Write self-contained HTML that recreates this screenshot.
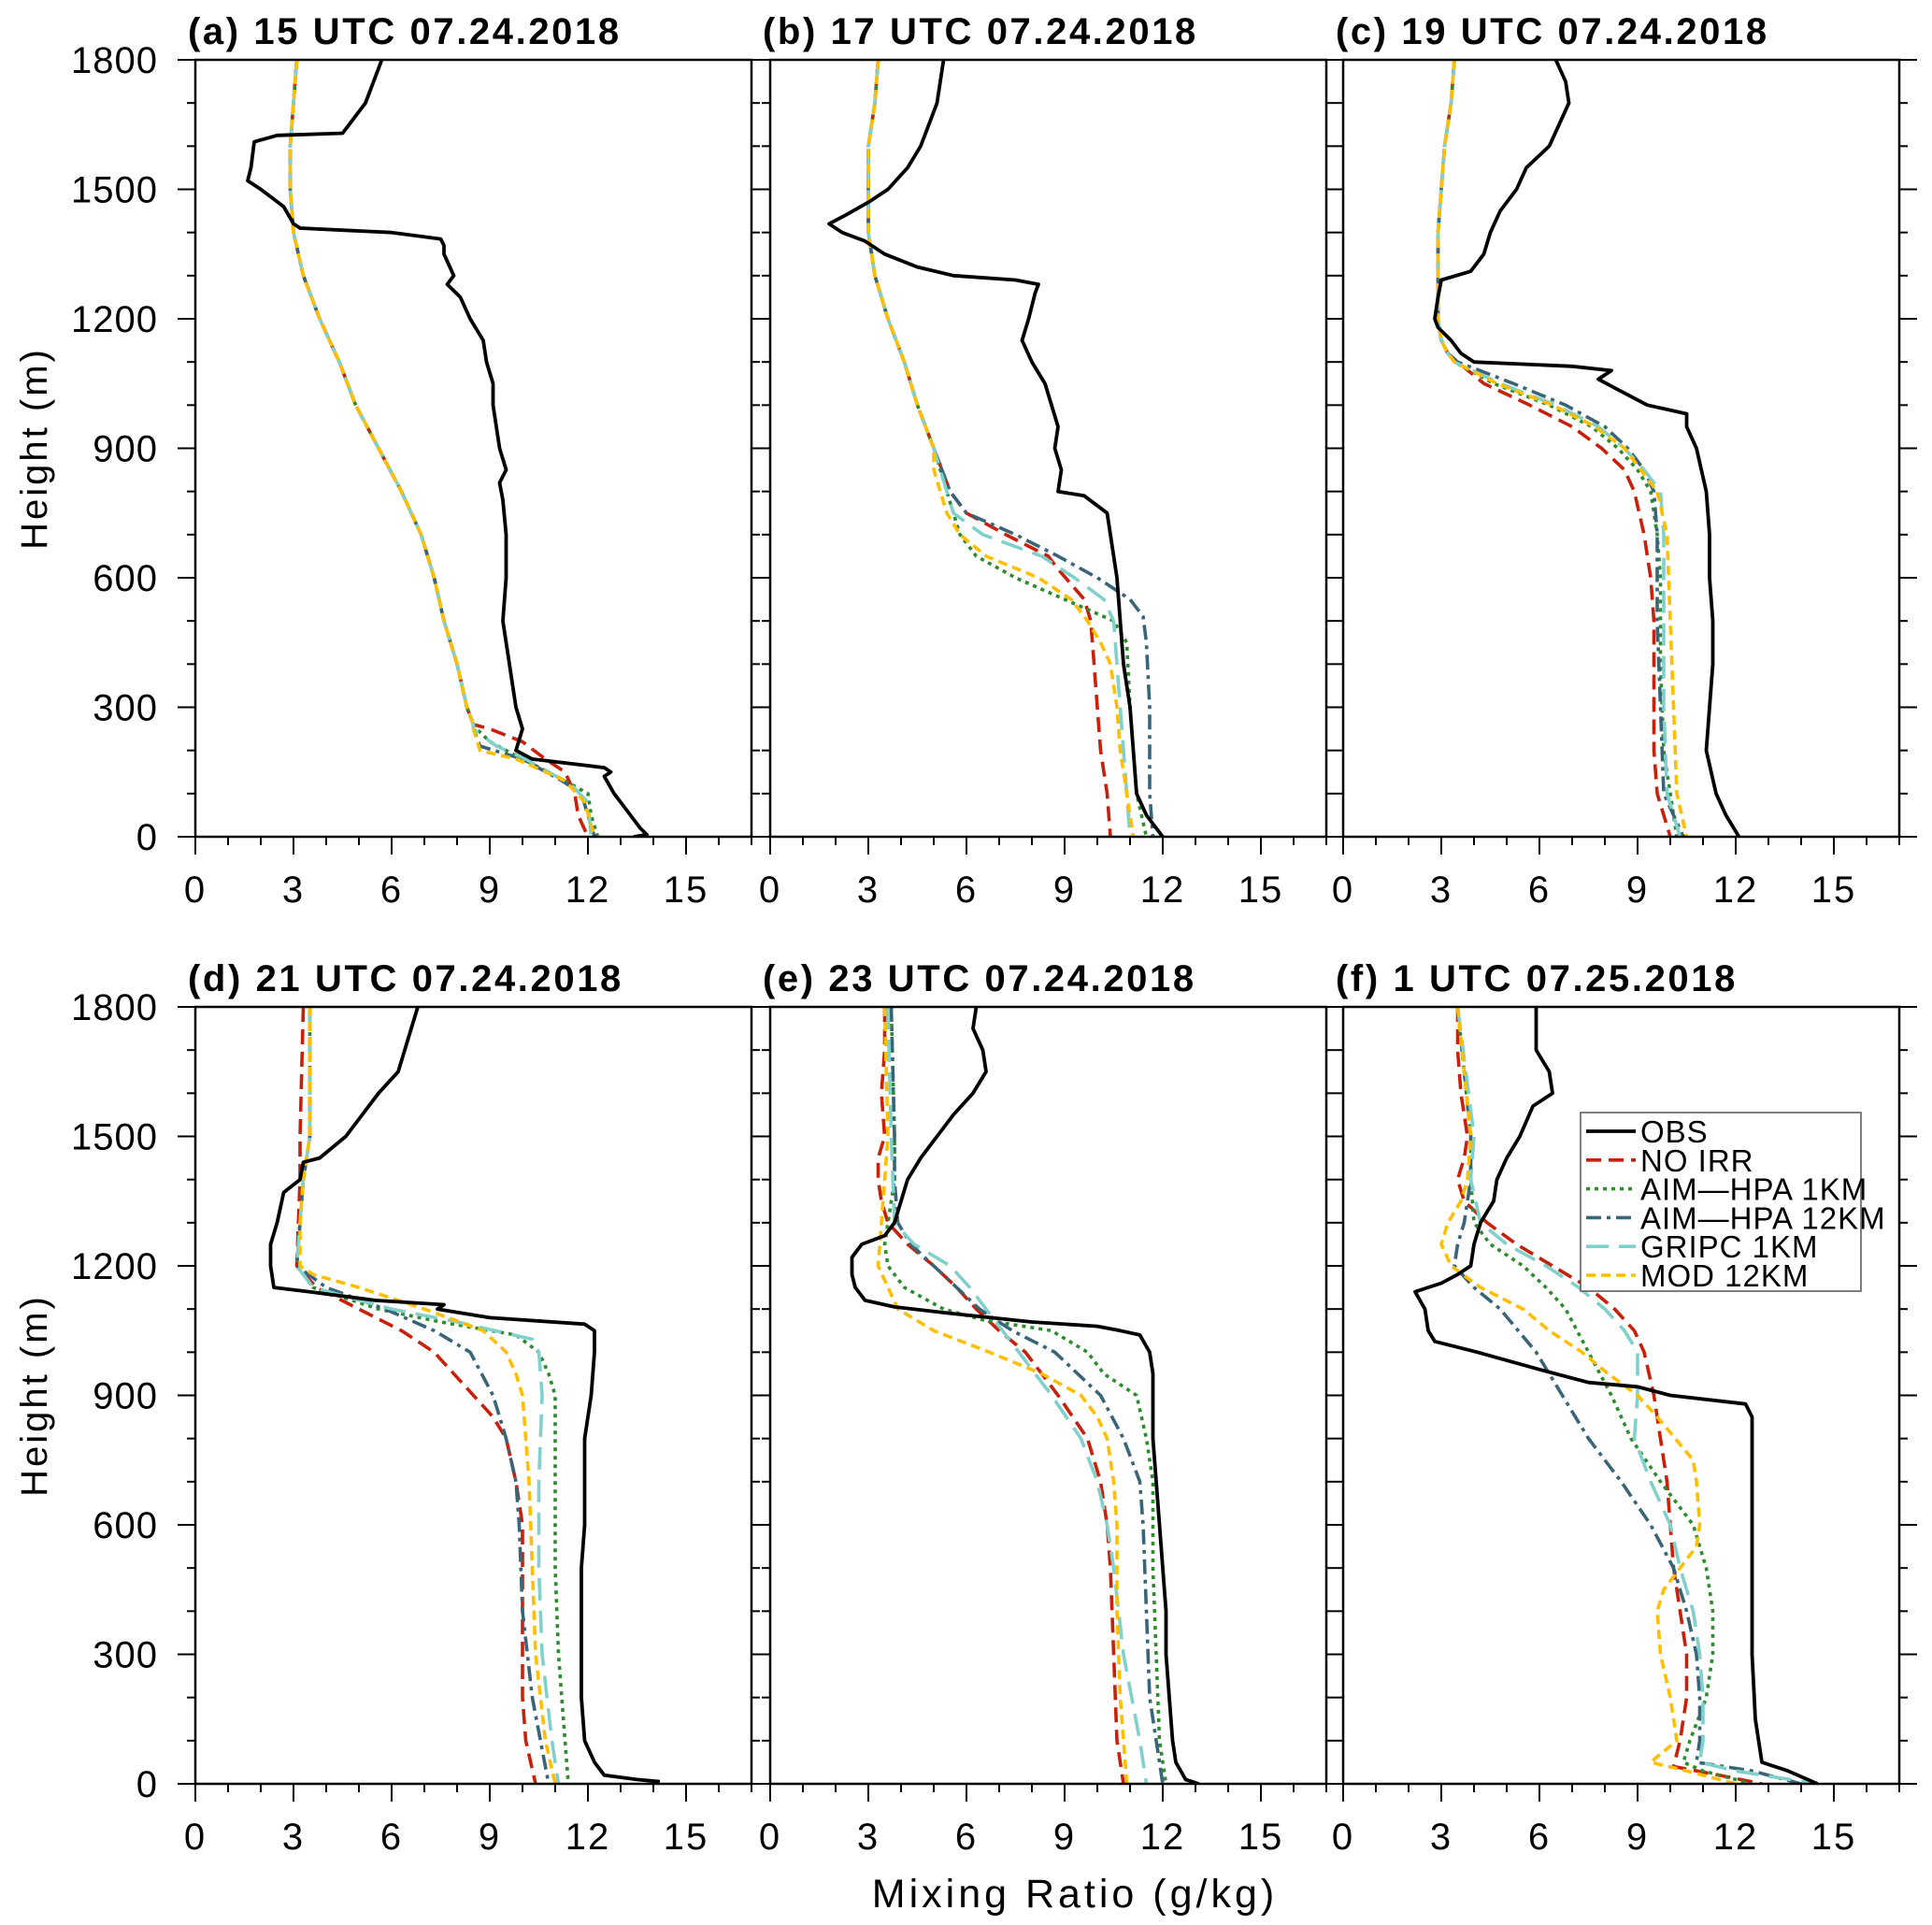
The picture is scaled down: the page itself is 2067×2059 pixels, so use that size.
<!DOCTYPE html>
<html><head><meta charset="utf-8"><style>
body{margin:0;background:#fff}
svg{display:block}
text{font-family:"Liberation Sans",sans-serif;fill:#000}
</style></head><body>
<svg id="chart" width="2067" height="2059" viewBox="0 0 2067 2059" xmlns="http://www.w3.org/2000/svg"></svg>
<script>
const panelTitles = ["(a)  15  UTC  07.24.2018","(b)  17  UTC  07.24.2018","(c)  19  UTC  07.24.2018","(d)  21  UTC  07.24.2018","(e)  23  UTC  07.24.2018","(f)  1  UTC  07.25.2018"];
const seriesNames = ["OBS","NO  IRR","AIM\u2014HPA  1KM","AIM\u2014HPA  12KM","GRIPC  1KM","MOD  12KM"];
const xTicks = [0,3,6,9,12,15];
const yTicks = [0,300,600,900,1200,1500,1800];

const A_OBS=[[1800,5.7],[1700,5.2],[1650,4.7],[1630,4.5],[1625,2.5],[1610,1.8],[1550,1.7],[1520,1.6],[1500,2.0],[1460,2.7],[1420,3.0],[1410,3.2],[1400,6.0],[1385,7.5],[1370,7.6],[1350,7.6],[1300,7.9],[1280,7.7],[1250,8.1],[1200,8.4],[1150,8.8],[1100,8.9],[1050,9.1],[1000,9.1],[950,9.2],[900,9.3],[850,9.5],[820,9.3],[780,9.4],[700,9.5],[600,9.5],[500,9.4],[400,9.6],[300,9.8],[250,10.0],[200,9.8],[180,10.3],[160,12.5],[150,12.7],[140,12.5],[100,12.8],[50,13.3],[20,13.6],[5,13.8],[0,13.4]];
const A_COMMON=[[1800,3.1],[1700,3.0],[1600,2.9],[1500,2.9],[1400,3.0],[1300,3.3],[1200,3.8],[1100,4.4],[1000,4.9],[900,5.6],[800,6.3],[700,6.9],[600,7.3],[500,7.6],[400,8.0],[300,8.3],[260,8.5]];
const A_NOIRR=A_COMMON.concat([[250,9.0],[220,10.0],[180,10.7],[150,11.3],[100,11.6],[50,11.7],[0,12.0]]);
const A_AIM1=A_COMMON.concat([[250,8.6],[220,9.0],[180,10.0],[130,11.3],[100,12.0],[50,12.1],[0,12.3]]);
const A_AIM12=A_COMMON.concat([[250,8.5],[210,8.7],[180,10.0],[130,11.2],[100,11.8],[50,12.0],[0,12.2]]);
const A_GRIPC=A_COMMON.concat([[250,8.5],[210,9.2],[180,10.1],[120,11.5],[80,12.0],[0,12.1]]);
const A_MOD=A_COMMON.concat([[250,8.5],[200,8.7],[180,9.8],[130,11.3],[80,11.9],[0,12.2]]);

const B_OBS=[[1800,5.3],[1700,5.1],[1600,4.6],[1550,4.2],[1500,3.6],[1470,3.0],[1440,2.3],[1420,1.8],[1400,2.2],[1380,2.9],[1350,3.5],[1320,4.5],[1300,5.6],[1290,7.5],[1280,8.2],[1260,8.1],[1200,7.9],[1150,7.7],[1100,8.0],[1050,8.4],[1000,8.6],[950,8.8],[900,8.7],[850,8.9],[800,8.8],[790,9.6],[750,10.3],[700,10.4],[600,10.6],[500,10.7],[400,10.8],[300,11.0],[200,11.1],[100,11.2],[50,11.5],[0,12.0]];
const B_COMMON=[[1800,3.3],[1700,3.2],[1600,3.0],[1500,3.0],[1400,3.0],[1300,3.2],[1200,3.6],[1100,4.1],[1000,4.5],[900,5.0]];
const B_NOIRR=B_COMMON.concat([[800,5.5],[750,6.0],[700,7.2],[650,8.5],[620,8.8],[550,9.6],[500,9.8],[400,9.9],[300,10.0],[200,10.1],[100,10.3],[0,10.4]]);
const B_AIM1=B_COMMON.concat([[800,5.4],[700,5.8],[650,6.3],[600,7.5],[550,9.0],[500,10.5],[450,10.9],[300,11.0],[200,11.1],[100,11.2],[0,11.5]]);
const B_AIM12=B_COMMON.concat([[800,5.5],[750,6.0],[700,7.5],[650,8.8],[600,10.0],[550,11.0],[510,11.4],[450,11.5],[300,11.6],[100,11.6],[0,11.7]]);
const B_GRIPC=B_COMMON.concat([[850,5.2],[750,5.6],[700,6.5],[650,8.3],[600,9.3],[550,10.2],[500,10.5],[400,10.6],[300,10.7],[100,10.9],[0,11.0]]);
const B_MOD=B_COMMON.concat([[850,5.0],[750,5.4],[700,5.8],[650,6.6],[600,8.2],[550,9.2],[500,9.7],[450,10.1],[400,10.4],[300,10.6],[200,10.7],[100,10.9],[0,11.1]]);

const C_OBS=[[1800,6.5],[1750,6.8],[1700,6.9],[1650,6.6],[1600,6.3],[1550,5.6],[1500,5.3],[1450,4.8],[1400,4.5],[1350,4.3],[1310,3.9],[1290,3.0],[1250,2.9],[1200,2.8],[1180,2.9],[1150,3.3],[1120,3.6],[1100,4.0],[1090,7.0],[1080,8.2],[1060,7.8],[1040,8.3],[1000,9.3],[980,10.5],[950,10.5],[900,10.8],[800,11.1],[700,11.2],[600,11.2],[500,11.3],[400,11.3],[300,11.2],[200,11.1],[100,11.4],[50,11.7],[0,12.1]];
const C_COMMON=[[1800,3.4],[1700,3.3],[1600,3.1],[1500,3.0],[1400,2.9],[1300,2.9],[1200,2.9],[1150,3.0],[1120,3.2]];
const C_NOIRR=C_COMMON.concat([[1100,3.5],[1050,4.3],[1000,5.7],[950,7.0],[900,7.9],[850,8.6],[800,8.9],[700,9.2],[600,9.4],[500,9.5],[300,9.5],[200,9.5],[100,9.6],[0,10.0]]);
const C_AIM1=C_COMMON.concat([[1100,3.4],[1050,4.6],[1000,6.3],[950,7.6],[900,8.4],[850,9.0],[800,9.4],[700,9.6],[600,9.7],[400,9.7],[200,9.8],[0,10.2]]);
const C_AIM12=C_COMMON.concat([[1100,3.5],[1050,5.2],[1000,6.8],[950,8.0],[900,8.7],[850,9.2],[800,9.5],[700,9.6],[500,9.6],[300,9.7],[100,9.8],[0,10.4]]);
const C_GRIPC=C_COMMON.concat([[1100,3.4],[1050,4.8],[1000,6.5],[950,7.8],[900,8.6],[850,9.2],[800,9.7],[700,9.8],[500,9.8],[300,9.8],[100,9.9],[0,10.3]]);
const C_MOD=C_COMMON.concat([[1100,3.4],[1050,4.7],[1000,6.4],[950,7.7],[900,8.6],[850,9.1],[800,9.6],[700,9.9],[500,10.0],[300,10.1],[100,10.2],[0,10.5]]);

const D_OBS=[[1800,6.8],[1750,6.6],[1700,6.4],[1650,6.2],[1600,5.6],[1550,5.1],[1500,4.6],[1450,3.8],[1440,3.3],[1400,3.2],[1370,2.7],[1300,2.5],[1250,2.3],[1200,2.3],[1150,2.4],[1140,3.5],[1120,5.5],[1110,7.6],[1100,7.4],[1080,9.0],[1065,11.9],[1050,12.2],[1000,12.2],[900,12.1],[800,11.9],[600,11.9],[500,11.8],[200,11.8],[100,11.9],[50,12.2],[20,12.5],[10,13.5],[5,14.2]];
const D_NOIRR=[[1800,3.3],[1500,3.2],[1400,3.2],[1200,3.1],[1150,3.7],[1100,5.0],[1050,6.3],[1000,7.3],[950,7.9],[900,8.5],[850,9.1],[800,9.5],[700,9.8],[600,10.0],[400,10.0],[200,10.0],[100,10.1],[0,10.4]];
const D_AIM1=[[1800,3.5],[1500,3.5],[1400,3.3],[1300,3.2],[1200,3.1],[1150,3.6],[1100,5.6],[1070,7.5],[1040,9.8],[1000,10.5],[950,10.8],[900,11.0],[500,11.0],[300,11.1],[100,11.3],[0,11.4]];
const D_AIM12=[[1800,3.5],[1500,3.5],[1400,3.3],[1300,3.2],[1200,3.1],[1150,4.0],[1100,5.8],[1050,7.3],[1000,8.4],[900,9.1],[800,9.5],[700,9.8],[600,9.9],[400,10.0],[200,10.3],[0,10.8]];
const D_GRIPC=[[1800,3.5],[1500,3.5],[1400,3.3],[1300,3.2],[1200,3.1],[1150,3.6],[1100,6.0],[1070,8.0],[1030,10.3],[1000,10.5],[900,10.6],[700,10.5],[500,10.5],[300,10.6],[100,10.9],[0,11.1]];
const D_MOD=[[1800,3.5],[1500,3.5],[1400,3.3],[1300,3.2],[1200,3.2],[1180,3.6],[1150,5.0],[1100,7.0],[1050,8.8],[1000,9.5],[950,9.8],[900,10.0],[700,10.2],[500,10.3],[300,10.4],[100,10.7],[0,11.0]];

const E_OBS=[[1800,6.3],[1750,6.2],[1700,6.5],[1650,6.6],[1600,6.2],[1550,5.6],[1500,5.1],[1450,4.6],[1400,4.2],[1350,4.0],[1300,3.8],[1270,3.5],[1250,2.8],[1220,2.5],[1180,2.5],[1150,2.6],[1120,2.9],[1105,3.8],[1090,5.5],[1070,8.0],[1060,10.0],[1050,10.7],[1040,11.3],[1000,11.6],[950,11.7],[800,11.7],[700,11.8],[600,11.9],[500,12.0],[400,12.1],[300,12.1],[200,12.2],[100,12.3],[50,12.4],[10,12.7],[0,13.1]];
const E_NOIRR=[[1800,3.5],[1700,3.5],[1600,3.4],[1500,3.5],[1450,3.3],[1400,3.3],[1350,3.4],[1300,3.6],[1250,4.2],[1200,5.0],[1150,5.7],[1100,6.3],[1050,7.0],[1000,7.8],[900,8.8],[800,9.7],[700,10.1],[600,10.3],[500,10.4],[300,10.5],[100,10.6],[0,10.8]];
const E_AIM1=[[1800,3.7],[1500,3.8],[1400,3.8],[1300,3.6],[1250,3.5],[1200,3.6],[1150,4.1],[1100,5.3],[1075,6.5],[1050,8.6],[1000,9.7],[950,10.2],[900,11.2],[800,11.5],[700,11.7],[500,11.7],[300,11.8],[100,11.9],[0,12.1]];
const E_AIM12=[[1800,3.7],[1500,3.8],[1400,3.8],[1300,3.9],[1250,4.3],[1200,5.0],[1100,6.4],[1050,7.4],[1000,8.7],[950,9.4],[900,10.1],[800,10.8],[700,11.3],[600,11.4],[400,11.5],[200,11.6],[0,12.0]];
const E_GRIPC=[[1800,3.6],[1500,3.7],[1300,3.8],[1250,4.4],[1200,5.5],[1150,6.1],[1100,6.6],[1000,7.6],[900,8.6],[800,9.5],[700,10.0],[600,10.3],[500,10.5],[300,10.8],[100,11.3],[0,11.5]];
const E_MOD=[[1800,3.5],[1500,3.6],[1300,3.4],[1200,3.3],[1100,3.9],[1050,5.0],[1000,6.7],[950,8.3],[900,9.5],[850,10.0],[800,10.3],[700,10.5],[600,10.6],[400,10.6],[200,10.7],[0,10.9]];

const F_OBS=[[1800,5.9],[1700,5.9],[1650,6.3],[1600,6.4],[1570,5.8],[1500,5.4],[1450,5.0],[1400,4.7],[1350,4.6],[1300,4.2],[1250,4.0],[1200,3.9],[1180,3.5],[1160,3.0],[1140,2.2],[1100,2.5],[1050,2.6],[1025,2.8],[1000,4.1],[960,6.0],[930,7.5],[920,9.0],[900,10.0],[880,12.3],[850,12.5],[500,12.5],[300,12.5],[150,12.6],[50,12.8],[30,13.6],[0,14.5]];
const F_NOIRR=[[1800,3.5],[1700,3.5],[1600,3.6],[1500,3.8],[1450,3.7],[1400,3.5],[1350,3.7],[1300,4.4],[1250,5.3],[1200,6.4],[1150,7.5],[1100,8.3],[1050,8.9],[1000,9.2],[900,9.5],[800,9.7],[700,9.9],[600,10.0],[500,10.1],[400,10.3],[300,10.5],[200,10.5],[100,10.3],[40,10.1],[20,11.5],[0,12.8]];
const F_AIM1=[[1800,3.5],[1500,3.9],[1400,3.9],[1300,4.0],[1250,4.5],[1200,5.5],[1150,6.2],[1100,6.8],[1000,7.5],[900,8.2],[800,8.8],[700,9.7],[600,10.7],[500,11.1],[400,11.3],[300,11.3],[200,11.1],[100,10.6],[50,10.4],[30,11.0],[0,12.5]];
const F_AIM12=[[1800,3.5],[1500,3.9],[1400,3.9],[1300,3.7],[1250,3.5],[1200,3.4],[1150,4.0],[1100,4.8],[1000,5.9],[900,6.7],[800,7.5],[700,8.5],[600,9.4],[500,10.1],[400,10.5],[300,10.8],[200,10.9],[100,10.9],[50,10.8],[30,12.5],[0,14.0]];
const F_GRIPC=[[1800,3.5],[1500,4.0],[1400,3.9],[1300,4.2],[1250,5.0],[1200,6.2],[1150,7.2],[1100,8.0],[1050,8.6],[1000,9.0],[900,9.0],[800,8.9],[700,9.4],[600,10.0],[500,10.3],[400,10.7],[300,10.9],[200,11.0],[100,11.0],[50,10.9],[30,12.0],[0,14.5]];
const F_MOD=[[1800,3.5],[1500,3.9],[1400,3.8],[1350,3.6],[1300,3.2],[1250,3.0],[1200,3.3],[1150,4.2],[1100,5.5],[1050,6.3],[1000,7.3],[950,8.1],[900,9.0],[850,9.6],[750,10.7],[700,10.8],[600,10.9],[550,10.8],[500,10.3],[450,9.8],[400,9.6],[300,9.7],[200,10.0],[100,10.2],[50,9.4],[30,10.5],[0,12.0]];

const panelsData=[[A_OBS,A_NOIRR,A_AIM1,A_AIM12,A_GRIPC,A_MOD],[B_OBS,B_NOIRR,B_AIM1,B_AIM12,B_GRIPC,B_MOD],[C_OBS,C_NOIRR,C_AIM1,C_AIM12,C_GRIPC,C_MOD],[D_OBS,D_NOIRR,D_AIM1,D_AIM12,D_GRIPC,D_MOD],[E_OBS,E_NOIRR,E_AIM1,E_AIM12,E_GRIPC,E_MOD],[F_OBS,F_NOIRR,F_AIM1,F_AIM12,F_GRIPC,F_MOD]];

const styles=[{c:"#000",d:"",w:3.8},{c:"#c8200a",d:"16,8",w:3.6},{c:"#2e8b2e",d:"4,5",w:3.6},{c:"#3a6578",d:"16,6,4,6",w:3.6},{c:"#80d0cc",d:"24,11",w:3.6},{c:"#ffbf00",d:"10,6",w:3.6}];
const slugs=["obs","no-irr","aim-hpa-1km","aim-hpa-12km","gripc-1km","mod-12km"];
const lefts=[209,824,1437], tops=[64,1077], PW=595, PH=831, XMAX=17, YMAX=1800;
const NS="http://www.w3.org/2000/svg";
const svg=document.getElementById('chart');
function mk(tag,attrs,parent){const e=document.createElementNS(NS,tag);for(const k in attrs)e.setAttribute(k,attrs[k]);(parent||svg).appendChild(e);return e;}

panelsData.forEach((series,pi)=>{
  const L=lefts[pi%3], T=tops[Math.floor(pi/3)], B=T+PH;
  const xs=v=>L+v/XMAX*PW, ys=h=>B-h/YMAX*PH;
  const g=mk('g',{});
  
  
  const title=mk('text',{x:L-8,y:T-17,'font-size':40,'font-weight':'bold','letter-spacing':2.6,'xml:space':'preserve'},g);
  title.textContent=panelTitles[pi];
  
  
  const cp=mk('clipPath',{id:'clip'+pi},g); mk('rect',{x:L,y:T,width:PW,height:PH},cp);
  const lg=mk('g',{'clip-path':'url(#clip'+pi+')'},g);
  [1,2,3,4,5,0].forEach(si=>{
    const s=series[si], st=styles[si];
    const p=mk('polyline',{points:s.map(d=>xs(d[1]).toFixed(1)+','+ys(d[0]).toFixed(1)).join(' '),fill:'none',stroke:st.c,'stroke-width':st.w,'stroke-dasharray':st.d,'stroke-linejoin':'round'},lg);
    
    
  });
  const fr=mk('rect',{x:L,y:T,width:PW,height:PH,fill:'none',stroke:'#000','stroke-width':2.5},g);
  
  
  for(let v=0;v<=XMAX;v++){const maj=v%3===0;mk('line',{x1:xs(v),x2:xs(v),y1:B,y2:B+(maj?19:9),stroke:'#000','stroke-width':2},g);}
  xTicks.forEach(v=>{const t=mk('text',{x:xs(v),y:B+70,'font-size':40,'text-anchor':'middle','letter-spacing':2},g);t.textContent=v;
    
    });
  for(let h=0;h<=YMAX;h+=100){const maj=h%300===0,len=maj?19:9;
    mk('line',{x1:L,x2:L-len,y1:ys(h),y2:ys(h),stroke:'#000','stroke-width':2},g);
    mk('line',{x1:L+PW,x2:L+PW+len,y1:ys(h),y2:ys(h),stroke:'#000','stroke-width':2},g);}
  if(pi%3===0){
    yTicks.forEach(h=>{const t=mk('text',{x:L-40,y:ys(h)+14,'font-size':40,'text-anchor':'end','letter-spacing':1},g);t.textContent=h;
      
      });
    const yt=mk('text',{x:0,y:0,'font-size':40,'text-anchor':'middle','letter-spacing':3,'xml:space':'preserve',transform:'translate(50,'+(T+PH/2)+') rotate(-90)'},g);
    yt.textContent='Height  (m)';
    
    
  }
});
const xt=mk('text',{x:1150,y:2040,'font-size':43,'text-anchor':'middle','letter-spacing':4,'xml:space':'preserve'});
xt.textContent='Mixing Ratio (g/kg)';


const lgd=mk('g',{});


mk('rect',{x:1691,y:1190,width:300,height:191,fill:'#fff',stroke:'#555','stroke-width':1.5},lgd);
seriesNames.forEach((n,i)=>{const y=1210+i*30.8,st=styles[i];
  const ln=mk('line',{x1:1697,x2:1750,y1:y,y2:y,stroke:st.c,'stroke-width':st.w,'stroke-dasharray':st.d},lgd);
  
  
  const t=mk('text',{x:1755,y:y+12,'font-size':33,'letter-spacing':1,'xml:space':'preserve'},lgd);t.textContent=n;
  
  
});
</script>
</body></html>
